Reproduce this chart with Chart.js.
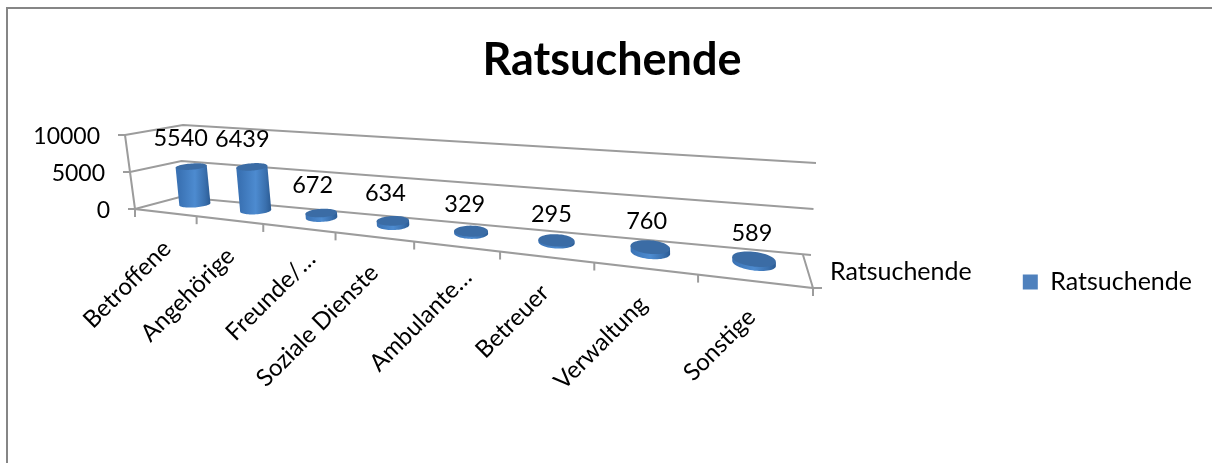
<!DOCTYPE html>
<html><head><meta charset="utf-8">
<style>html,body{margin:0;padding:0;background:#fff}#w{width:1212px;height:463px;position:relative}</style>
<script src="https://cdn.jsdelivr.net/npm/chart.js@4"></script>
</head><body><div id="w"><canvas id="c" width="1212" height="463"></canvas></div>
<script>
const categories = ["Betroffene","Angehörige","Freunde/…","Soziale Dienste","Ambulante…","Betreuer","Verwaltung","Sonstige"];
const ratsuchende = [5540,6439,672,634,329,295,760,589];
const seriesName = "Ratsuchende";
const chartTitle = "Ratsuchende";
const yMax = 10000, yStep = 5000;

const FONT = "Lato, Carlito, Calibri, sans-serif";
const GRID = "#9c9c9c";
// perspective frame: floor is bounded by a front line and a back line
const PERSP = -0.30;
const tOf = u => u*(1+PERSP)/(1+PERSP*u);
const lerp = (a,b,k) => a+(b-a)*k;
function floorPt(u,d){
  const t = tOf(u);
  return {x: lerp(135+678*t, 180+625*t, d), y: lerp(209+79*t, 197+58*t, d)};
}
const DEPTH = 0.65, RU = 0.2/8, RD = 0.24;

function cylinder(ctx,u,v){
  const t = tOf(u), N = 60;
  const hx = (-7+7*t)*v, hy = -68*v;
  const ox = 2, oy = 2.5*t;
  const base = [];
  for(let i=0;i<N;i++){
    const a = i/N*Math.PI*2;
    const p = floorPt(u+RU*Math.cos(a), DEPTH+RD*Math.sin(a));
    base.push({x:p.x+ox,y:p.y+oy});
  }
  let L=0,R=0;
  base.forEach((p,i)=>{ if(p.x<base[L].x)L=i; if(p.x>base[R].x)R=i; });
  // walk the lower arc from the rightmost to the leftmost point of the base
  const path=[];
  let dir = 1, probe = (R+Math.floor(N/4))%N;
  const mid = (base[L].y+base[R].y)/2;
  if(base[probe].y<mid) dir=-1;
  for(let i=R;;i=(i+dir+N)%N){ path.push(base[i]); if(i===L)break; }
  const g = ctx.createLinearGradient(base[L].x,0,base[R].x,0);
  g.addColorStop(0,"#3a72b4"); g.addColorStop(.5,"#4d8bd0"); g.addColorStop(.82,"#3a70ae"); g.addColorStop(1,"#2b5b93");
  ctx.beginPath();
  ctx.moveTo(base[R].x+hx,base[R].y+hy);
  path.forEach(p=>ctx.lineTo(p.x,p.y));
  ctx.lineTo(base[L].x+hx,base[L].y+hy);
  ctx.closePath();
  ctx.fillStyle=g; ctx.fill();
  ctx.beginPath();
  base.forEach((p,i)=> i?ctx.lineTo(p.x+hx,p.y+hy):ctx.moveTo(p.x+hx,p.y+hy));
  ctx.closePath();
  ctx.fillStyle="#3b6ca5"; ctx.fill();
  const c=floorPt(u,DEPTH);
  return {x:c.x+ox+hx, y:c.y+oy+hy, t};
}

class Cylinder3D extends Chart.BarController {
  draw(){
    const chart=this.chart, area=chart.chartArea, ctx=chart.ctx;
    const els=this.getMeta().data;
    els.forEach((el,i)=>{
      const u=(el.x-area.left)/area.width;
      const v=(el.base-el.y)/area.height;
      const top=cylinder(ctx,u,v);
      ctx.fillStyle="#000"; ctx.font="23.5px "+FONT; ctx.textAlign="center"; ctx.textBaseline="middle";
      ctx.fillText(String(ratsuchende[i]), top.x-11+10*top.t, top.y-28+3*top.t);
    });
  }
}
Cylinder3D.id="cylinder3d";
Cylinder3D.defaults=Chart.BarController.defaults;
Chart.register(Cylinder3D);

const frame={
  id:"frame",
  afterLayout(chart){
    // the key sits beside the lower part of the plot
    const k=chart.legend;
    k.top+=52; k.bottom+=52; k.left-=10; k.right-=10;
  },
  beforeDatasetsDraw(chart){
    const ctx=chart.ctx, ys=chart.scales.y, xs=chart.scales.x, area=chart.chartArea;
    ctx.save();
    // outer border
    ctx.strokeStyle="#868686"; ctx.lineWidth=2;
    ctx.beginPath(); ctx.moveTo(7,463); ctx.lineTo(7,8); ctx.lineTo(1212,8); ctx.stroke();
    ctx.strokeStyle=GRID; ctx.lineWidth=2;
    ctx.font="23px "+FONT; ctx.fillStyle="#000"; ctx.textBaseline="middle"; ctx.textAlign="right";
    ys.ticks.forEach(tk=>{
      const v=tk.value/yMax;
      const f={x:135-10*v,y:209-74*v}, b={x:180+3*v,y:197-72*v}, r={x:811+5*v,y:255-92*v};
      ctx.beginPath(); ctx.moveTo(f.x-7,f.y); ctx.lineTo(f.x,f.y); ctx.lineTo(b.x,b.y); ctx.lineTo(r.x,r.y); ctx.stroke();
      ctx.fillText(String(tk.value), f.x-25, f.y+2);
    });
    // vertical edge on the left, front floor edge, right floor edge
    ctx.beginPath(); ctx.moveTo(125,135); ctx.lineTo(135,209); ctx.lineTo(813,288); ctx.lineTo(803,255); ctx.stroke();
    ctx.beginPath(); ctx.moveTo(813,288); ctx.lineTo(822,288); ctx.stroke();
    // category ticks
    categories.forEach((c,i)=>{
      const u0=(xs.getPixelForTick(i)-area.left)/area.width-0.5/categories.length;
      for(const u of (i===categories.length-1?[u0,1]:[u0])){
        const p=floorPt(u,0);
        ctx.beginPath(); ctx.moveTo(p.x,p.y); ctx.lineTo(p.x,p.y+8); ctx.stroke();
      }
    });
    ctx.restore();
  },
  afterDatasetsDraw(chart){
    const ctx=chart.ctx, xs=chart.scales.x, area=chart.chartArea;
    ctx.save();
    ctx.fillStyle="#000";
    categories.forEach((c,i)=>{
      const u=(xs.getPixelForTick(i)-area.left)/area.width;
      const p=floorPt(u,0), t=tOf(u);
      const cut=c.endsWith("…");
      ctx.save();
      ctx.font="24px "+FONT;
      ctx.translate(p.x+2-5*t+(cut?12:0),p.y+32-(cut?5:0));
      ctx.rotate(-Math.PI/4);
      ctx.textAlign="right"; ctx.textBaseline="middle";
      ctx.fillText(c,0,0);
      ctx.restore();
    });
    ctx.font="25px "+FONT;
    ctx.textAlign="left"; ctx.textBaseline="middle";
    ctx.fillText(seriesName,830,272);
    ctx.restore();
  }
};

new Chart(document.getElementById("c"),{
  type:"cylinder3d",
  data:{labels:categories,datasets:[{label:seriesName,data:ratsuchende,backgroundColor:"#4f81bd",borderWidth:0}]},
  options:{
    responsive:false,animation:false,
    layout:{padding:{left:12,right:0,top:0,bottom:3}},
    scales:{
      x:{type:"category",display:false,grid:{display:false}},
      y:{type:"linear",display:false,min:0,max:yMax,ticks:{stepSize:yStep},grid:{display:false}}
    },
    plugins:{
      tooltip:{enabled:false},
      title:{display:true,text:chartTitle,color:"#000",font:{family:FONT,size:45,weight:"bold",lineHeight:1.2},padding:{top:33,bottom:15}},
      legend:{display:true,position:"right",labels:{boxWidth:15,boxHeight:15,color:"#000",font:{family:FONT,size:25},padding:35}}
    }
  },
  plugins:[frame]
});
</script></body></html>
